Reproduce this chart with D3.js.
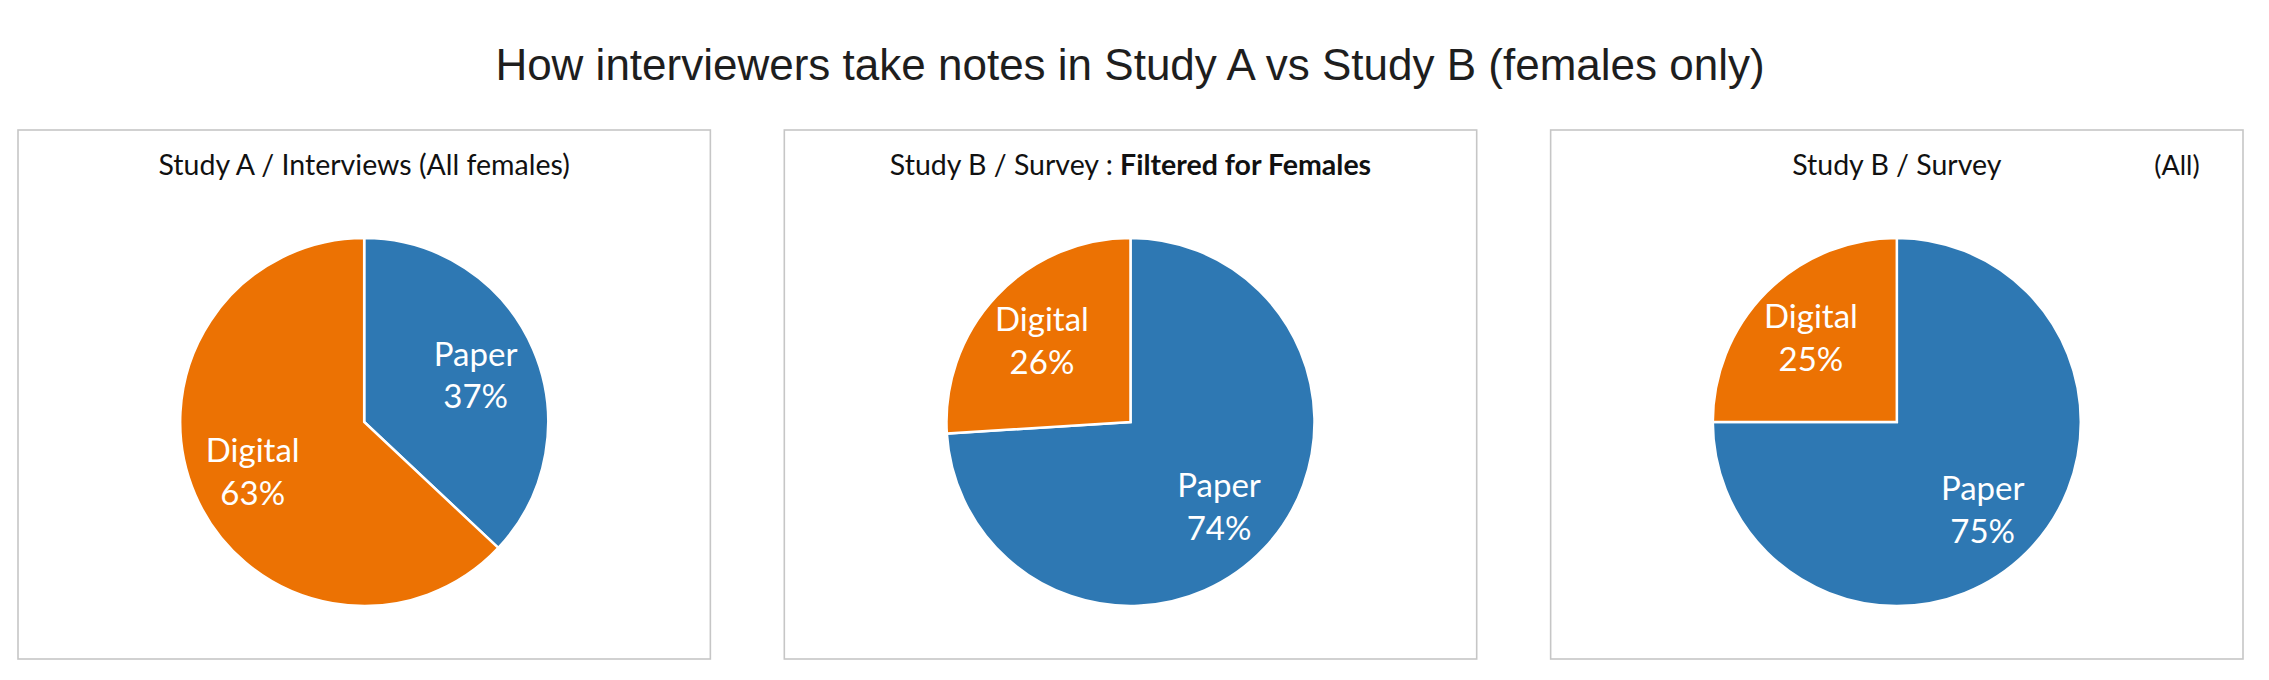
<!DOCTYPE html>
<html>
<head>
<meta charset="utf-8">
<script src="https://cdn.jsdelivr.net/npm/d3@7"></script>
<style>
  html, body { margin: 0; padding: 0; background: #ffffff; }
  svg { display: block; }
</style>
</head>
<body>
<svg id="chart" width="2269" height="680"></svg>
<script>
// ---- data ----
const mainTitle = "How interviewers take notes in Study A vs Study B (females only)";
const categories = ["Paper", "Digital"];
const studyAValues = [37, 63];          // Study A / Interviews (All females)
const studyBFemaleValues = [74, 26];    // Study B / Survey : Filtered for Females
const studyBAllValues = [75, 25];       // Study B / Survey (All)
const panelTitlesPlain = ["Study A / Interviews (All females)", "Study B / Survey : ", "Study B / Survey"];
const panelTitlesBold = ["", "Filtered for Females", ""];
const panelNotes = ["", "", "(All)"];
const seriesValues = [studyAValues, studyBFemaleValues, studyBAllValues];

// ---- layout / style ----
const W = 2269, H = 680;
const colors = d3.scaleOrdinal().domain(categories).range(["#2E78B3", "#EC7203"]);
const panelX = d3.scaleBand().domain(d3.range(3)).range([18, 2243]).paddingInner(0.0965);
const panelTop = 130, panelBottom = 659;
const pieCy = 422, pieR = 184;
const labelFont = "Lato, 'Noto Sans', sans-serif";

const svg = d3.select("#chart");

svg.append("text")
  .attr("x", 1130).attr("y", 80)
  .attr("text-anchor", "middle")
  .attr("font-family", "'Liberation Sans', Arial, sans-serif")
  .attr("font-size", 44)
  .attr("fill", "#1e1e1e")
  .text(mainTitle);

const pie = d3.pie().sort(null).value(d => d);
const arc = d3.arc().innerRadius(0).outerRadius(pieR);
const labelArc = d3.arc().innerRadius(pieR * 0.66).outerRadius(pieR * 0.66);

seriesValues.forEach((vals, i) => {
  const x0 = panelX(i), bw = panelX.bandwidth();
  const g = svg.append("g");
  g.append("rect")
    .attr("x", x0).attr("y", panelTop)
    .attr("width", bw).attr("height", panelBottom - panelTop)
    .attr("fill", "#ffffff")
    .attr("stroke", "#c6c6c6").attr("stroke-width", 1.6);

  const cx = x0 + bw / 2;
  const t = g.append("text")
    .attr("x", cx).attr("y", 175)
    .attr("text-anchor", "middle")
    .attr("font-family", labelFont)
    .attr("font-size", 28.5)
    .attr("fill", "#111");
  t.append("tspan").text(panelTitlesPlain[i]);
  if (panelTitlesBold[i]) t.append("tspan").attr("font-weight", "bold").text(panelTitlesBold[i]);

  if (panelNotes[i]) {
    g.append("text")
      .attr("x", x0 + bw - 66).attr("y", 175)
      .attr("text-anchor", "middle")
      .attr("font-family", labelFont)
      .attr("font-size", 27)
      .attr("fill", "#111")
      .text(panelNotes[i]);
  }

  const arcs = pie(vals);
  const pg = g.append("g").attr("transform", `translate(${cx},${pieCy})`);
  pg.selectAll("path.slice")
    .data(arcs)
    .join("path")
    .attr("class", "slice")
    .attr("d", arc)
    .attr("fill", (d, k) => colors(categories[k]))
    .attr("stroke", "#ffffff")
    .attr("stroke-width", 2.5)
    .attr("stroke-linejoin", "miter");

  const lab = pg.selectAll("text.lab")
    .data(arcs)
    .join("text")
    .attr("class", "lab")
    .attr("transform", d => `translate(${labelArc.centroid(d)})`)
    .attr("text-anchor", "middle")
    .attr("font-family", labelFont)
    .attr("font-size", 33)
    .attr("fill", "#ffffff");
  lab.append("tspan").attr("x", 0).attr("dy", "-0.25em").text((d, k) => categories[k]);
  lab.append("tspan").attr("x", 0).attr("dy", "1.3em").text(d => d.data + "%");
});
</script>
</body>
</html>
